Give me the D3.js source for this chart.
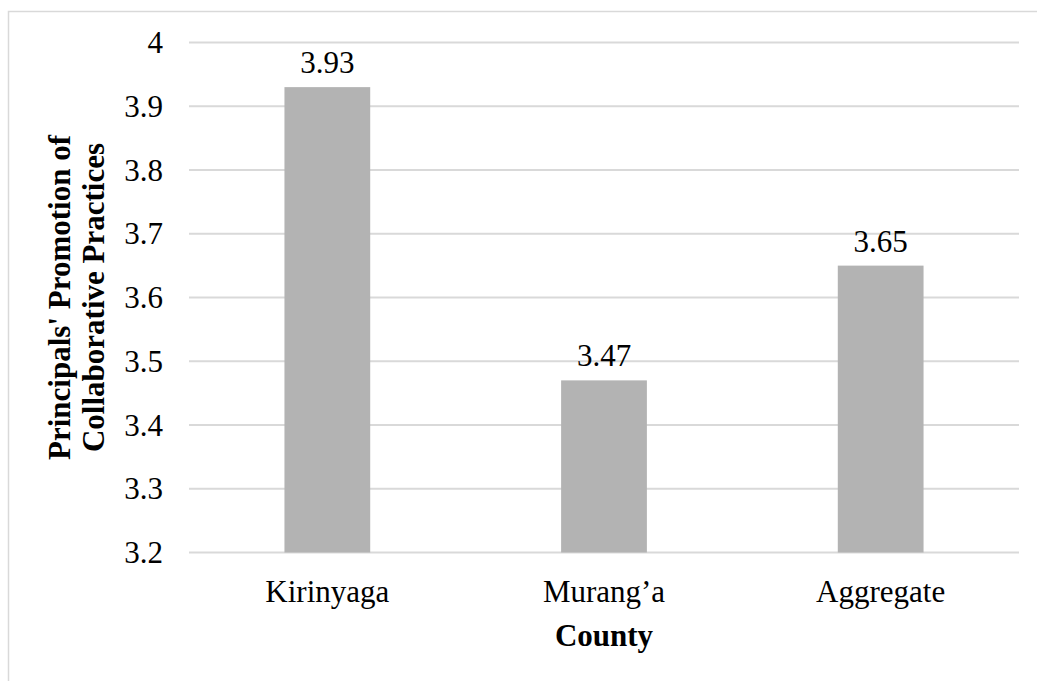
<!DOCTYPE html>
<html>
<head>
<meta charset="utf-8">
<script src="https://cdn.jsdelivr.net/npm/d3@7"></script>
<style>
  body { margin: 0; background: #fff; }
  text { font-family: "Liberation Serif", "Times New Roman", serif; fill: #000; }
</style>
</head>
<body>
<svg id="chart" width="1037" height="681"></svg>
<script>
const counties = ['Kirinyaga', 'Murang\u2019a', 'Aggregate']
const scores = [3.93, 3.47, 3.65]
const yTicks = [3.2, 3.3, 3.4, 3.5, 3.6, 3.7, 3.8, 3.9, 4]
const yTitle = ['Principals\' Promotion of', 'Collaborative Practices']
const xTitle = 'County'

const svg = d3.select('#chart')

// outer chart frame (runs off the right/bottom edge like the source)
svg.append('rect')
    .attr('x', 8.5).attr('y', 11.5)
    .attr('width', 1100).attr('height', 800)
    .attr('fill', 'none')
    .attr('stroke', '#d9d9d9')
    .attr('stroke-width', 1.5)

const plot = { left: 189, right: 1019, top: 42.5, bottom: 552.5 }

const x = d3.scaleBand()
    .domain(counties)
    .range([plot.left, plot.right])
    .paddingInner(0.69)
    .paddingOuter(0.345)

const y = d3.scaleLinear()
    .domain([3.2, 4])
    .range([plot.bottom, plot.top])

// gridlines
svg.append('g')
    .selectAll('line')
    .data(yTicks)
    .join('line')
    .attr('x1', plot.left)
    .attr('x2', plot.right)
    .attr('y1', d => y(d))
    .attr('y2', d => y(d))
    .attr('stroke', '#d9d9d9')
    .attr('stroke-width', 2)

// y tick labels
svg.append('g')
    .selectAll('text')
    .data(yTicks)
    .join('text')
    .attr('x', 163)
    .attr('y', d => y(d))
    .attr('dy', '0.34em')
    .attr('text-anchor', 'end')
    .style('font-size', '31px')
    .text(d => d3.format('')(d))

// bars
svg.append('g')
    .selectAll('rect')
    .data(scores)
    .join('rect')
    .attr('x', (d, i) => x(counties[i]))
    .attr('width', x.bandwidth())
    .attr('y', d => y(d))
    .attr('height', d => y(3.2) - y(d))
    .attr('fill', '#b3b3b3')

// value labels
svg.append('g')
    .selectAll('text')
    .data(scores)
    .join('text')
    .attr('x', (d, i) => x(counties[i]) + x.bandwidth() / 2)
    .attr('y', d => y(d) - 14)
    .attr('text-anchor', 'middle')
    .style('font-size', '31px')
    .text(d => d3.format('.2f')(d))

// category labels
svg.append('g')
    .selectAll('text')
    .data(counties)
    .join('text')
    .attr('x', d => x(d) + x.bandwidth() / 2)
    .attr('y', 602)
    .attr('text-anchor', 'middle')
    .style('font-size', '31px')
    .text(d => d)

// axis titles
svg.append('text')
    .attr('x', (plot.left + plot.right) / 2)
    .attr('y', 646)
    .attr('text-anchor', 'middle')
    .style('font-size', '31px')
    .style('font-weight', 'bold')
    .text(xTitle)

const yt = svg.append('text')
    .attr('transform', `translate(70, ${(plot.top + plot.bottom) / 2}) rotate(-90)`)
    .attr('text-anchor', 'middle')
    .style('font-size', '31px')
    .style('font-weight', 'bold')
yt.selectAll('tspan')
    .data(yTitle)
    .join('tspan')
    .attr('x', 0)
    .attr('dy', (d, i) => i ? 34 : 0)
    .text(d => d)
</script>
</body>
</html>
